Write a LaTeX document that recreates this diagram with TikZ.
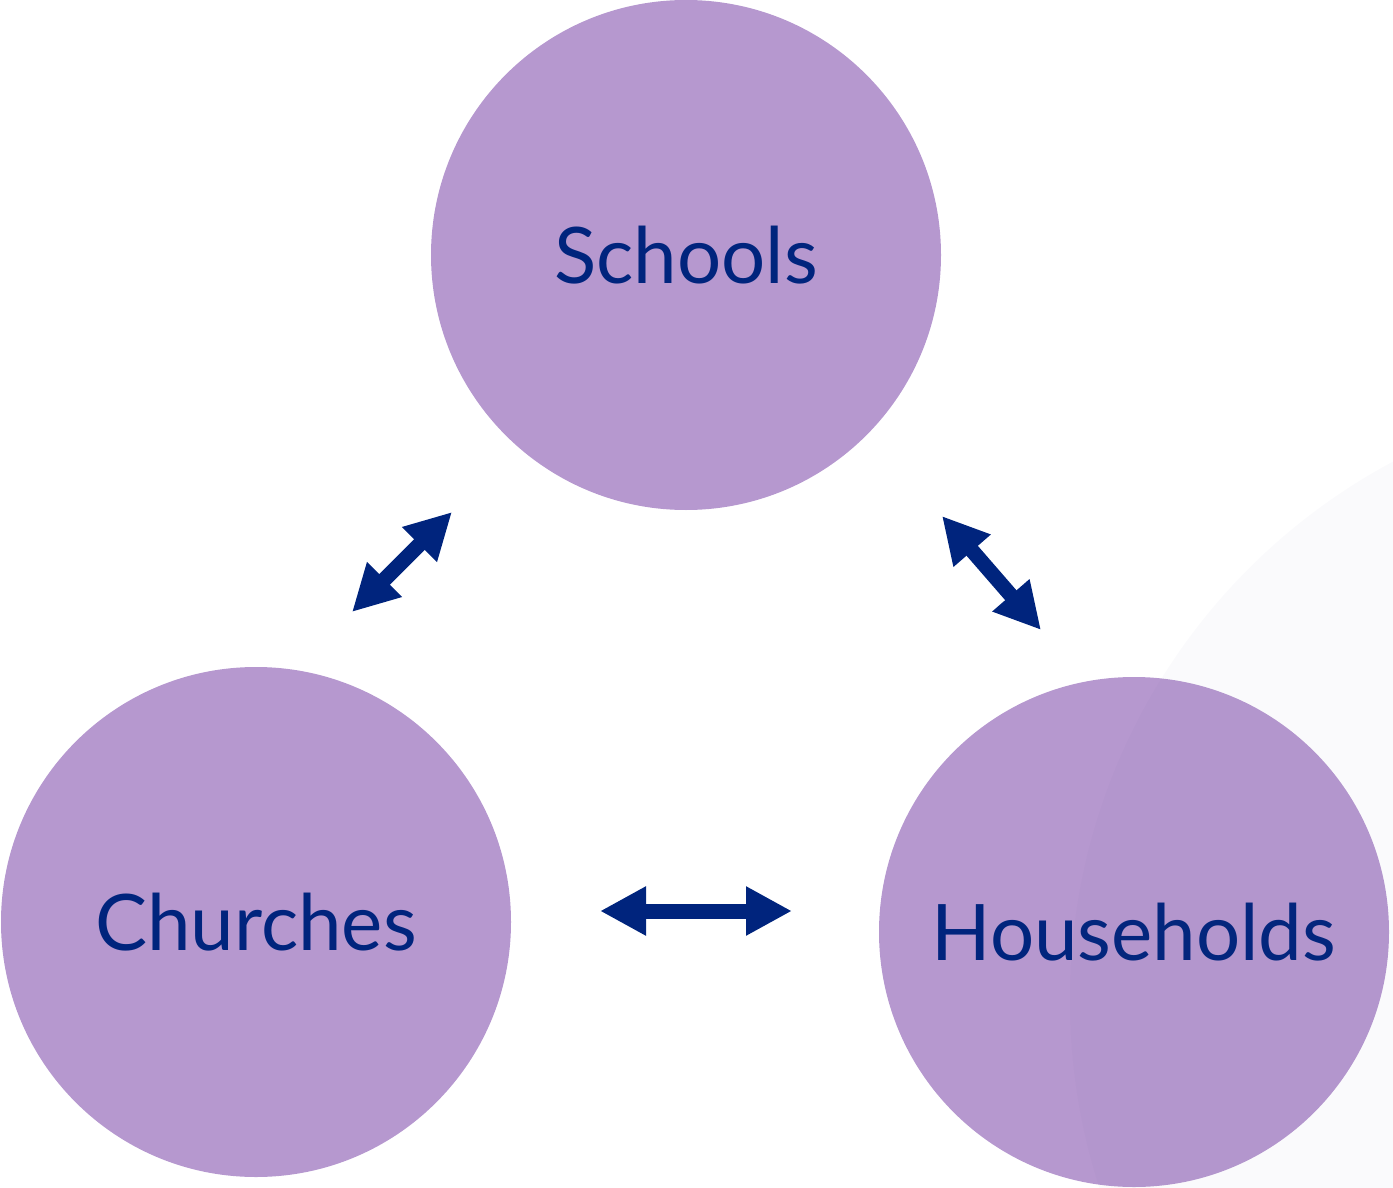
\documentclass[tikz,border=0pt]{standalone}
\usepackage{fontspec}
\setmainfont{Lato}
\usepackage{xcolor}
\usetikzlibrary{arrows.meta}
\definecolor{lilac}{RGB}{182,152,207}
\definecolor{navy}{RGB}{0,36,125}
\definecolor{haze}{RGB}{100,100,150}
\tikzset{
  place/.style={circle, fill=lilac, minimum size=510pt, inner sep=0pt,
    text=navy, font=\fontsize{78}{90}\selectfont},
  biarrow/.style={draw=navy, line width=15pt,
    {Triangle[length=46pt,width=46pt]}-{Triangle[length=46pt,width=46pt]}}
}

\begin{document}
\begin{tikzpicture}[x=1pt,y=-1pt]
          \useasboundingbox (0,0) rectangle (1393,1188);
          % the three circles
          \node[place] (schools) at (686,255) {Schools};
          \node[place] (churches) at (256,922) {Churches};
          \node[place] (households) at (1134,932) {Households};
          % arrow ends
          \coordinate (cs1) at (352,612);
          \coordinate (cs2) at (452,512);
          \coordinate (sh1) at (942,516);
          \coordinate (sh2) at (1041,630);
          \coordinate (ch1) at (600,911);
          \coordinate (ch2) at (792,911);
          % arrows
          \draw[biarrow] (cs1) -- (cs2);
          \draw[biarrow] (sh1) -- (sh2);
          \draw[biarrow] (ch1) -- (ch2);
          % faint disc at the right
          \fill[haze, opacity=0.03] (1680,1000) circle (610);
        \end{tikzpicture}
\end{document}
